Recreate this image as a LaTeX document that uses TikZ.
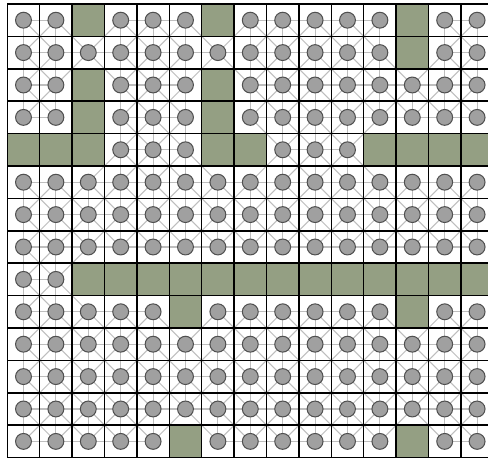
\documentclass[tikz,border=0pt]{standalone}
\usepackage{tikz}

\definecolor{obstgreen}{RGB}{148,159,131}
\definecolor{nodefill}{RGB}{160,160,160}
\definecolor{nodeedge}{RGB}{80,80,80}
\definecolor{linkgray}{RGB}{190,190,190}

\pgfdeclarelayer{bglayer}
\pgfdeclarelayer{linklayer}
\pgfdeclarelayer{gridlayer}
\pgfsetlayers{bglayer,linklayer,gridlayer,main}

\begin{document}
\begin{tikzpicture}[
    cellnode/.style={circle, draw=nodeedge, fill=nodefill, line width=0.9pt, minimum size=0.49cm, inner sep=0pt},
    linkline/.style={draw=linkgray, line width=0.9pt},
    gridline/.style={draw=black, line width=1.3pt},
    blocked/.style={fill=obstgreen}
]
    % 画布范围
    \useasboundingbox (-0.225,0.123) rectangle (14.837,-13.982);
    \begin{pgfonlayer}{bglayer}
        \fill[white] (-0.225,0.123) rectangle (14.837,-13.982);
    \end{pgfonlayer}

    % 障碍格
    \foreach \r/\c in {0/2,0/6,0/12,1/12,2/2,2/6,3/2,3/6,
                       4/0,4/1,4/2,4/6,4/7,4/11,4/12,4/13,4/14,
                       9/5,9/12,13/5,13/12} {
        \expandafter\gdef\csname blk\r-\c\endcsname{}
    }
    \foreach \c in {2,...,14} {
        \expandafter\gdef\csname blk8-\c\endcsname{}
    }

    % 可通行格的节点
    \foreach \r in {0,...,13} {
        \foreach \c in {0,...,14} {
            \ifcsname blk\r-\c\endcsname\else
                \node[cellnode] (n\r-\c) at (\c+0.5,-\r-0.5) {};
            \fi
        }
    }

    % 八邻接连线
    \begin{pgfonlayer}{linklayer}
        \foreach \r in {0,...,13} {
            \foreach \c in {0,...,14} {
                \pgfmathtruncatemacro{\rowD}{\r+1}
                \pgfmathtruncatemacro{\colL}{\c-1}
                \pgfmathtruncatemacro{\colR}{\c+1}
                \foreach \p/\q in {\r/\colR,\rowD/\colL,\rowD/\c,\rowD/\colR} {
                    \ifcsname pgf@sh@ns@n\r-\c\endcsname
                        \ifcsname pgf@sh@ns@n\p-\q\endcsname
                            \draw[linkline] (n\r-\c.center) -- (n\p-\q.center);
                        \fi
                    \fi
                }
            }
        }
    \end{pgfonlayer}

    % 网格与障碍
    \begin{pgfonlayer}{gridlayer}
        \foreach \r in {0,...,13} {
            \foreach \c in {0,...,14} {
                \ifcsname blk\r-\c\endcsname
                    \fill[blocked] (\c,-\r) rectangle ++(1,-1);
                \fi
            }
        }
        \begin{scope}
            \clip (-0.225,0.123) rectangle (14.837,-13.982);
            \draw[gridline] (0,-14) grid (15,0);
        \end{scope}
    \end{pgfonlayer}
\end{tikzpicture}
\end{document}
